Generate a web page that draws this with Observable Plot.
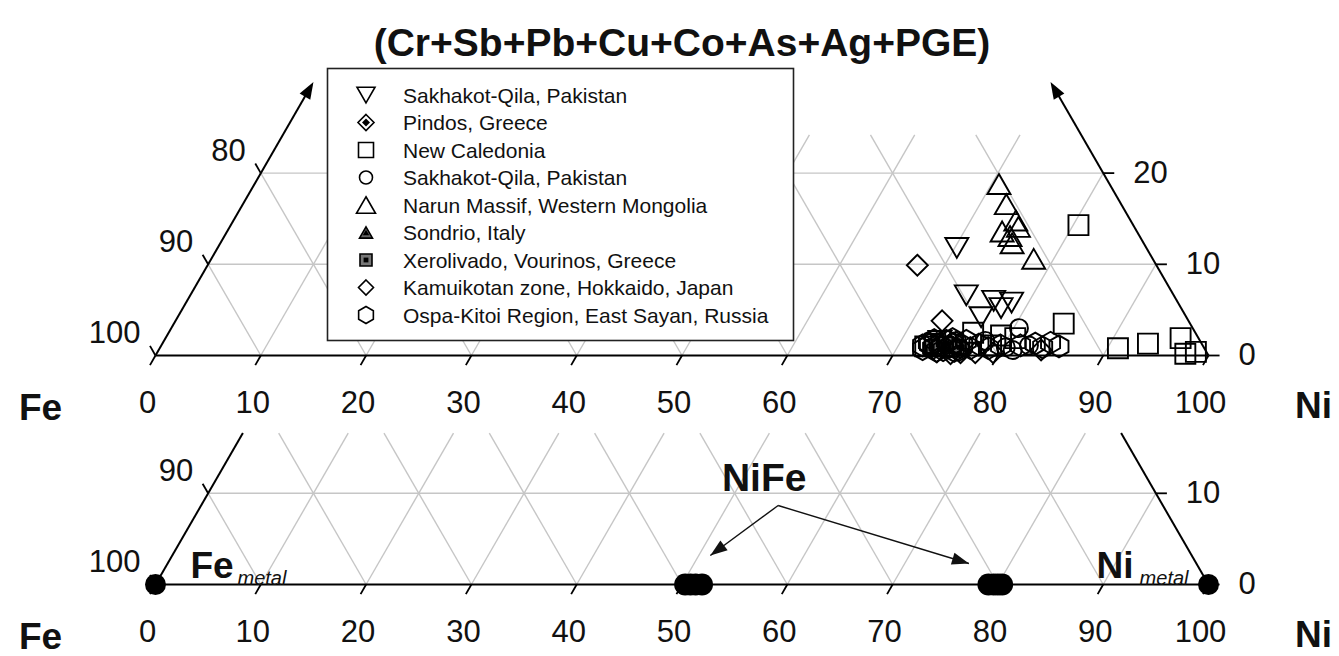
<!DOCTYPE html>
<html><head><meta charset="utf-8">
<script src="https://cdn.jsdelivr.net/npm/d3@7"></script>
<script src="https://cdn.jsdelivr.net/npm/@observablehq/plot@0.6"></script>
<style>
html,body{margin:0;padding:0;background:#fff;overflow:hidden;width:1339px;height:656px;}
#top,#bot{position:absolute;left:0;}
#top{top:0}
#bot{top:428px}
</style></head><body>
<div id="top"></div><div id="bot"></div>
<script>
// ---------- DATA (ternary: [Ni, Cr+Sb+Pb+Cu+Co+As+Ag+PGE]; Fe = 100 - Ni - other) ----------
const apexLabel = "(Cr+Sb+Pb+Cu+Co+As+Ag+PGE)";
const leftVertexLabel = "Fe";
const rightVertexLabel = "Ni";
const baseTicks = [0,10,20,30,40,50,60,70,80,90,100];
const gridSteps = [10,20,30,40,50,60,70,80,90];
const edgeTicksTop = [0,10,20];
const edgeTicksBottom = [0,10];
const legendNames = [
  "Sakhakot-Qila, Pakistan",
  "Pindos, Greece",
  "New Caledonia",
  "Sakhakot-Qila, Pakistan",
  "Narun Massif, Western Mongolia",
  "Sondrio, Italy",
  "Xerolivado, Vourinos, Greece",
  "Kamuikotan zone, Hokkaido, Japan",
  "Ospa-Kitoi Region, East Sayan, Russia"
];
const sakhakotTriangles = [[70.2,11.8],[73.7,6.6],[76.6,6.0],[78.4,5.8],[77.7,5.2],[76.3,4.2],[73.7,1.6]];
const pindos = [[73.4,1.6],[74.7,0.8],[75.5,1.1]];
const newCaledonia = [[80.5,14.3],[84.5,3.5],[91.0,0.8],[93.6,1.3],[96.4,1.9],[97.7,0.2],[98.6,0.4],[76.4,2.5],[79.2,2.2],[78.8,1.1],[80.7,1.9],[73.4,1.3],[72.6,1.0]];
const sakhakotCircles = [[80.5,3.0],[80.3,0.9],[81.1,0.6],[78.0,1.6],[82.4,1.1],[74.8,1.1],[76.0,0.8]];
const narun = [[70.7,18.8],[72.5,16.6],[74.3,14.8],[74.9,14.1],[73.6,13.6],[74.6,13.1],[75.2,12.3],[78.1,10.6]];
const sondrio = [[74.0,1.1],[75.2,0.6]];
const xerolivado = [[73.2,1.0],[74.4,1.3],[75.9,0.9]];
const kamuikotan = [[67.4,9.9],[72.8,3.8],[77.7,0.3],[79.4,0.3],[76.3,0.3],[83.8,0.6],[74.0,0.4],[75.4,0.2]];
const ospaKitoi = [[72.3,1.1],[72.7,1.4],[73.4,0.8],[73.8,1.2],[74.5,0.6],[74.3,1.6],[75.0,1.0],[75.3,1.4],[76.0,0.6],[76.1,1.1],[76.2,1.6],[77.0,0.8],[77.6,1.2],[78.7,0.8],[79.7,1.1],[81.6,1.1],[82.9,1.3],[83.8,0.9],[84.3,1.4],[85.3,1.0],[72.5,0.7],[73.1,1.7],[73.9,0.5],[74.8,1.8],[75.6,0.5],[72.9,1.2],[74.1,1.0],[75.1,1.3]];
// bottom panel
const feMetal = [[0,0]];
const niMetal = [[100,0]];
const niFe = [[50.3,0],[50.8,0],[51.3,0],[51.9,0],[79.1,0],[79.6,0],[80.0,0],[80.4,0]];
const niFeLabel = "NiFe";
const niFeArrowFrom = [54.8,8.66];
const niFeArrowTo = [[51.1,3.18],[76.1,2.30]];

// ---------- helpers ----------
const PX = 10.53;                 // px per ternary unit along base
const H = PX*Math.sqrt(3)/2;      // px per unit of the apex component
const X = d => d[0] + d[1]/2;
const T = d => d[1];
const FONT = "Liberation Sans, Arial, Helvetica, sans-serif";
const sq = Math.sqrt;
const sym = {
  triUp:{draw(c,size){const s=sq(size/Math.PI),h=s*Math.sqrt(3);c.moveTo(0,-h/2);c.lineTo(s,h/2);c.lineTo(-s,h/2);c.closePath();}},
  triDown:{draw(c,size){const s=sq(size/Math.PI),h=s*Math.sqrt(3);c.moveTo(0,h/2);c.lineTo(s,-h/2);c.lineTo(-s,-h/2);c.closePath();}},
  square:{draw(c,size){const s=sq(size/Math.PI);c.moveTo(-s,-s);c.lineTo(s,-s);c.lineTo(s,s);c.lineTo(-s,s);c.closePath();}},
  diamond:{draw(c,size){const s=sq(size/Math.PI);c.moveTo(0,-s);c.lineTo(s,0);c.lineTo(0,s);c.lineTo(-s,0);c.closePath();}},
  circle:{draw(c,size){const s=sq(size/Math.PI);c.moveTo(s,0);c.arc(0,0,s,0,2*Math.PI);}},
  hexagon:{draw(c,size){const s=sq(size/Math.PI);for(let i=0;i<6;i++){const a=(-90+60*i)*Math.PI/180;const px=s*Math.cos(a),py=s*Math.sin(a);if(i)c.lineTo(px,py);else c.moveTo(px,py);}c.closePath();}},
  arrowhead:{draw(c,size){const s=sq(size/Math.PI);c.moveTo(0,0);c.lineTo(-0.36*s,s);c.lineTo(0.36*s,s);c.closePath();}}
};
// series styling (plot r, legend r, outer fill, inner filled symbol ratio)
const series = [
  {data:sakhakotTriangles, s:sym.triDown, r:11.5, lr:9, fill:"none"},
  {data:pindos, s:sym.diamond, r:8, lr:8, fill:"white", inner:0.5},
  {data:newCaledonia, s:sym.square, r:10, lr:7.5, fill:"none"},
  {data:sakhakotCircles, s:sym.circle, r:9, lr:6.5, fill:"none"},
  {data:narun, s:sym.triUp, r:11.5, lr:9.5, fill:"none"},
  {data:sondrio, s:sym.triUp, r:7, lr:6.5, fill:"#666", inner:0.5},
  {data:xerolivado, s:sym.square, r:6.5, lr:6, fill:"#777", inner:0.4},
  {data:kamuikotan, s:sym.diamond, r:10.5, lr:7.5, fill:"none"},
  {data:ospaKitoi, s:sym.hexagon, r:11, lr:8.5, fill:"none"}
];
const drawOrder = [2,3,7,0,4,1,5,6,8];

function rotation(a,b){
  const dx=(X(b)-X(a))*PX, dy=-(T(b)-T(a))*H;
  return Math.atan2(dy,dx)*180/Math.PI + 90;
}
function gridSegments(tmax, hLines){
  const s=[];
  for (const n of gridSteps){
    s.push([[n,0],[n,Math.min(tmax,100-n)]]);
    const e=Math.min(tmax,n);
    s.push([[n,0],[n-e,e]]);
  }
  for (const t of hLines) s.push([[0,t],[100-t,t]]);
  return s;
}
function tickSegments(edgeTicks){
  const L=1.05, s=[];
  for (const n of baseTicks) s.push([[n,0],[n,-L]]);
  for (const t of edgeTicks){ s.push([[0,t],[-L,t+L]]); s.push([[100-t,t],[100-t+L,t]]); }
  return s;
}
const linkOpts = (o)=>Object.assign({x1:s=>X(s[0]),y1:s=>T(s[0]),x2:s=>X(s[1]),y2:s=>T(s[1])},o);

function frameMarks(tmax, edgeTicks, hLines){
  const edges=[[[0,0],[100,0]]];
  return [
    Plot.link(gridSegments(tmax,hLines), linkOpts({stroke:"#c6c6c6",strokeWidth:1.4})),
    Plot.link(edges, linkOpts({stroke:"black",strokeWidth:2})),
    Plot.link(tickSegments(edgeTicks), linkOpts({stroke:"black",strokeWidth:1.8})),
    Plot.text(baseTicks,{x:n=>n,y:()=>0,text:n=>String(n),dy:48,dx:-8,fontSize:31,fill:"#111"}),
    Plot.text(edgeTicks,{x:t=>X([0,t]),y:t=>t,text:t=>String(100-t),textAnchor:"end",dx:-15,dy:-22,fontSize:31,fill:"#111"}),
    Plot.text(edgeTicks,{x:t=>X([100-t,t]),y:t=>t,text:t=>String(t),textAnchor:"start",dx:30,fontSize:31,fill:"#111"}),
    Plot.text([leftVertexLabel],{x:()=>0,y:()=>0,text:d=>d,dx:-115,dy:53,fontSize:37,fontWeight:"bold",fill:"#111"}),
    Plot.text([rightVertexLabel],{x:()=>100,y:()=>0,text:d=>d,dx:105,dy:51,fontSize:37,fontWeight:"bold",fill:"#111"})
  ];
}

// ---------- TOP PANEL ----------
const TMAX_TOP = 24.2, ARROW_T = 30;
const topMarks = frameMarks(TMAX_TOP, edgeTicksTop, [10,20]);
topMarks.push(
  Plot.link([[[0,0],[0,ARROW_T-1.2]],[[100,0],[100-ARROW_T+1.2,ARROW_T-1.2]]], linkOpts({stroke:"black",strokeWidth:2})),
  Plot.dot([[[0,0],[0,ARROW_T]],[[100,0],[100-ARROW_T,ARROW_T]]],{x:s=>X(s[1]),y:s=>T(s[1]),symbol:sym.arrowhead,r:17,fill:"black",stroke:"none",rotate:s=>rotation(s[0],s[1])}),
  Plot.text([apexLabel],{x:()=>50,frameAnchor:"top",dy:43,lineAnchor:"middle",fontSize:39,fontWeight:"bold",fill:"#111"})
);
for (const i of drawOrder){
  const sr=series[i];
  topMarks.push(Plot.dot(sr.data,{x:X,y:T,symbol:sr.s,r:sr.r,stroke:"black",strokeWidth:1.9,fill:sr.fill}));
  if (sr.inner) topMarks.push(Plot.dot(sr.data,{x:X,y:T,symbol:sr.s,r:sr.r*sr.inner,fill:"black",stroke:"none"}));
}
const topPlot = Plot.plot({
  width:1339, height:428, margin:0,
  style:{fontFamily:FONT, background:"transparent", overflow:"visible"},
  x:{domain:[0,100], range:[155,155+100*PX], axis:null},
  y:{domain:[0,30], range:[355,355-30*H], axis:null},
  marks: topMarks
});
document.getElementById("top").appendChild(topPlot);

// legend (drawn into the top svg)
{
  const svg=d3.select(topPlot);
  const g=svg.append("g").attr("text-anchor","start").attr("font-family",FONT);
  g.append("rect").attr("x",327.5).attr("y",68.5).attr("width",466).attr("height",272)
    .attr("fill","white").attr("stroke","#222").attr("stroke-width",1.6);
  legendNames.forEach((name,i)=>{
    const y=95+i*27.5, sr=series[i];
    g.append("path").attr("d",d3.symbol(sr.s,Math.PI*sr.lr*sr.lr)()).attr("transform",`translate(366,${y})`)
      .attr("fill",sr.fill==="none"?"white":sr.fill).attr("stroke","black").attr("stroke-width",1.6);
    if (sr.inner) g.append("path").attr("d",d3.symbol(sr.s,Math.PI*(sr.lr*sr.inner)**2)()).attr("transform",`translate(366,${y})`).attr("fill","black");
    g.append("text").attr("x",403).attr("y",y).attr("dy","0.36em").attr("text-anchor","start")
      .attr("font-size",21).attr("fill","#111").text(name);
  });
}

// ---------- BOTTOM PANEL ----------
const TMAX_BOT = 16.6;
const botMarks = frameMarks(TMAX_BOT, edgeTicksBottom, [10]);
botMarks.push(
  Plot.link([[[0,0],[0,TMAX_BOT]],[[100,0],[100-TMAX_BOT,TMAX_BOT]]], linkOpts({stroke:"black",strokeWidth:2})),
  Plot.dot(feMetal.concat(niMetal),{x:X,y:T,r:10.5,fill:"black",stroke:"none"}),
  Plot.dot(niFe,{x:X,y:T,r:11,fill:"black",stroke:"none"}),
  Plot.link(niFeArrowTo,{x1:()=>X(niFeArrowFrom),y1:()=>T(niFeArrowFrom),x2:X,y2:T,stroke:"#111",strokeWidth:1.4}),
  Plot.dot(niFeArrowTo,{x:X,y:T,symbol:sym.arrowhead,r:17,fill:"#111",stroke:"none",rotate:d=>rotation(niFeArrowFrom,d)}),
  Plot.text([niFeLabel],{x:()=>X(niFeArrowFrom),y:()=>T(niFeArrowFrom),text:d=>d,dx:-14,dy:-27,fontSize:39,fontWeight:"bold",fill:"#111"}),
  Plot.text(["Fe"],{x:()=>0,y:()=>0,text:d=>d,textAnchor:"start",dx:35,dy:-18,fontSize:37,fontWeight:"bold",fill:"#111"}),
  Plot.text(["metal"],{x:()=>0,y:()=>0,text:d=>d,textAnchor:"start",dx:82,dy:-6,fontSize:20,fontStyle:"italic",fill:"#111"}),
  Plot.text(["Ni"],{x:()=>100,y:()=>0,text:d=>d,textAnchor:"end",dx:-75,dy:-18,fontSize:37,fontWeight:"bold",fill:"#111"}),
  Plot.text(["metal"],{x:()=>100,y:()=>0,text:d=>d,textAnchor:"end",dx:-20,dy:-6,fontSize:20,fontStyle:"italic",fill:"#111"})
);
const botPlot = Plot.plot({
  width:1339, height:228, margin:0,
  style:{fontFamily:FONT, background:"transparent", overflow:"visible"},
  x:{domain:[0,100], range:[155,155+100*PX], axis:null},
  y:{domain:[0,10], range:[156,156-10*H], axis:null},
  marks: botMarks
});
document.getElementById("bot").appendChild(botPlot);
</script>
</body></html>
